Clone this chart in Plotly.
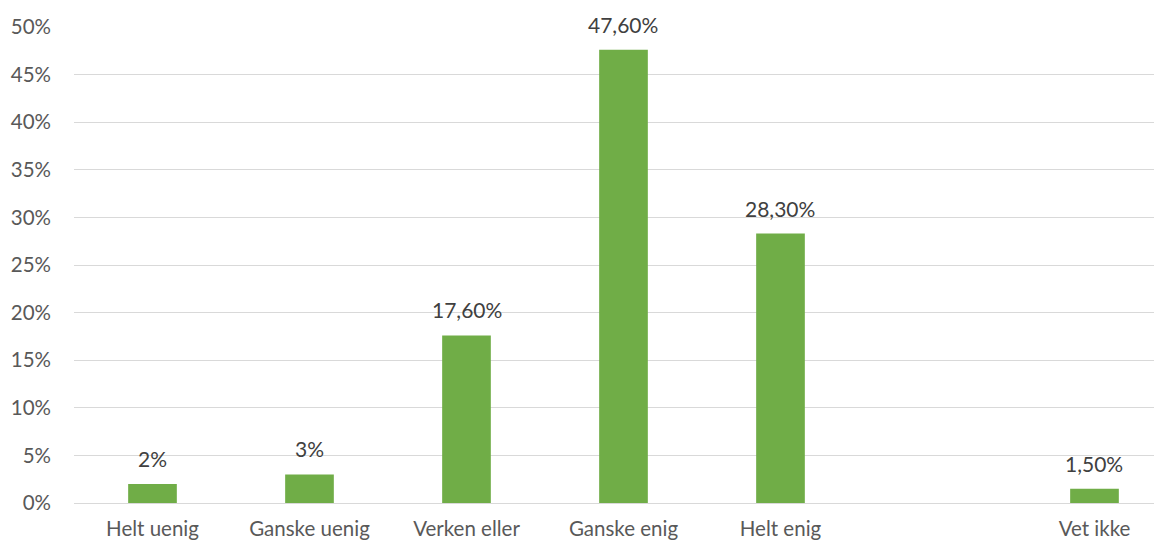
import plotly.graph_objects as go

categories = ["Helt uenig", "Ganske uenig", "Verken eller", "Ganske enig", "Helt enig", " ", "Vet ikke"]
values = [2.0, 3.0, 17.6, 47.6, 28.3, None, 1.5]
value_labels = ["2%", "3%", "17,60%", "47,60%", "28,30%", "", "1,50%"]
y_ticks = [0, 5, 10, 15, 20, 25, 30, 35, 40, 45, 50]
y_tick_labels = [f"{v}%" for v in y_ticks]

fig = go.Figure()
fig.add_trace(go.Bar(
    x=categories, y=values,
    marker=dict(color="#70ad47", line=dict(width=0)),
    width=0.31,
    hoverinfo="skip",
))

for c, v, t in zip(categories, values, value_labels):
    if v is None:
        continue
    fig.add_annotation(
        x=c, y=v, text=t, showarrow=False,
        yanchor="bottom", yshift=11,
        font=dict(family="Lato", size=21, color="#404040"),
    )

fig.update_layout(
    width=1162, height=544,
    margin=dict(l=66, r=8, t=19, b=49),
    paper_bgcolor="white", plot_bgcolor="white",
    showlegend=False,
    font=dict(family="Lato", size=20.5, color="#595959"),
)
fig.update_xaxes(
    type="category",
    categoryorder="array", categoryarray=categories,
    range=[-0.5, 6.43],
    automargin=False,
    showgrid=False, showline=False, zeroline=False,
    ticks="outside", ticklen=7, tickcolor="rgba(0,0,0,0)",
    tickfont=dict(family="Lato", size=20.5, color="#595959"),
)
fig.update_yaxes(
    range=[0, 50],
    automargin=False,
    tickvals=y_ticks, ticktext=y_tick_labels,
    showgrid=True, gridcolor="#d9d9d9", gridwidth=1.3,
    zeroline=True, zerolinecolor="#d9d9d9", zerolinewidth=1.3,
    showline=False,
    ticklabelstandoff=22,
    tickfont=dict(family="Lato", size=20.5, color="#595959"),
)

fig.write_html("out.html")
